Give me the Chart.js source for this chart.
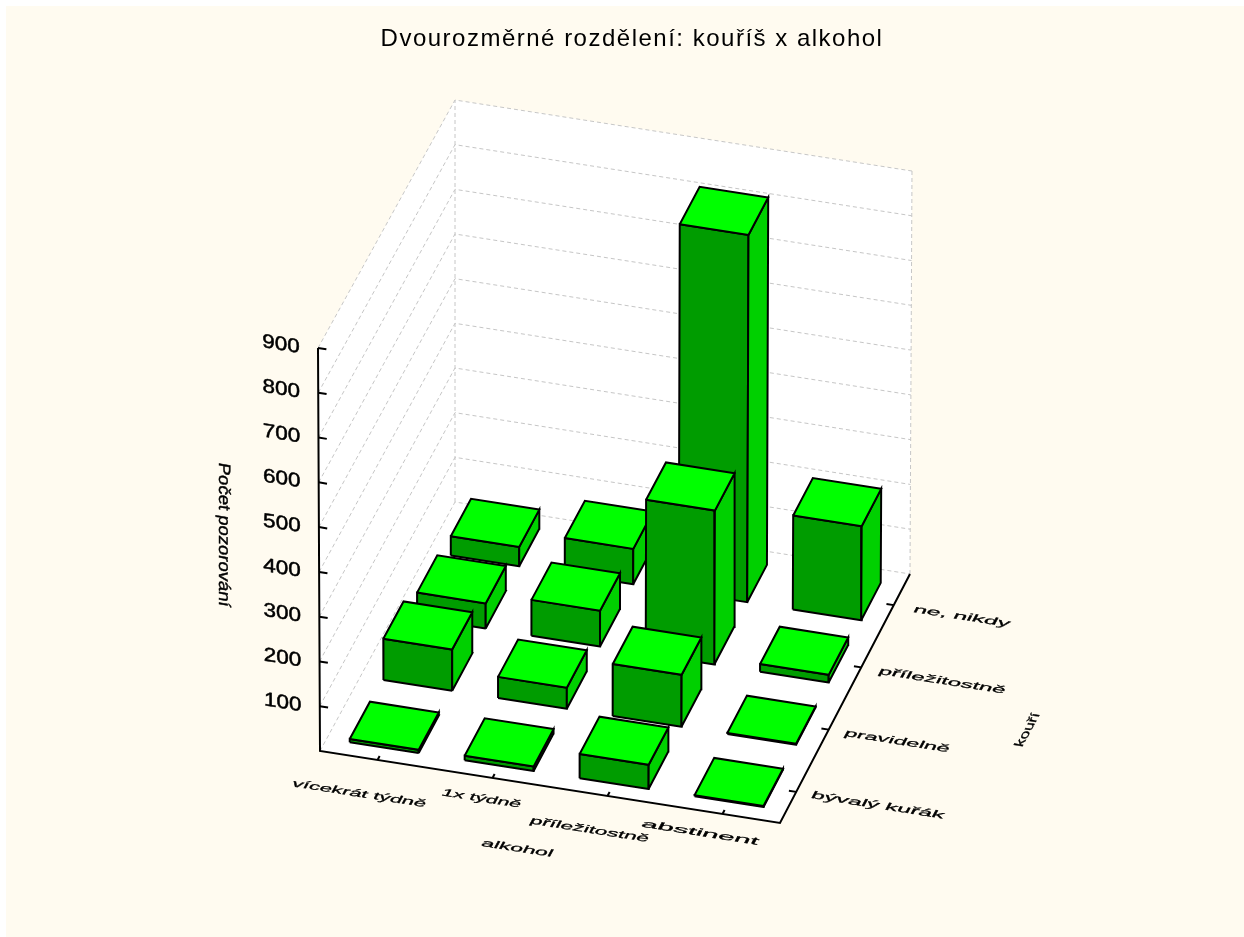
<!DOCTYPE html>
<html>
<head>
<meta charset="utf-8">
<title>Dvourozměrné rozdělení</title>
<script src="https://cdn.jsdelivr.net/npm/chart.js@4/dist/chart.umd.min.js"></script>
<style>
  html, body { margin: 0; padding: 0; background: #fff; overflow: hidden; }
  #paper { position: absolute; left: 6px; top: 6px; right: 0; bottom: 0; width: 1238px; height: 931px; background: #fffbf0; }
  #chart { position: absolute; left: 0; top: 0; }
</style>
</head>
<body>
<div id="paper"></div>
<canvas id="chart" width="1244" height="937"></canvas>
<script>
// data
const alcoholLabels = ["vícekrát týdně", "1x týdně", "příležitostně", "abstinent"];
const smokingLabels = ["bývalý kuřák", "pravidelně", "příležitostně", "ne, nikdy"];
const exSmoker = [7, 10, 54, 2];
const regular = [92, 47, 116, 2];
const occasional = [56, 80, 344, 17];
const never = [43, 79, 821, 210];
const countTicks = [0, 100, 200, 300, 400, 500, 600, 700, 800, 900];
const chartTitle = "Dvourozměrné rozdělení: kouříš x alkohol";
const countTitle = "Počet pozorování";
const alcoholTitle = "alkohol";
const smokingTitle = "kouří";

const rows = [exSmoker, regular, occasional, never];
const countMax = 900;

// corners of the 3d box on the page: floor, then top
const floorCorners = { a: [320, 751], b: [780, 823], c: [910, 574], d: [455, 502] };
const topCorners = { a: [318, 348], b: [783, 421], c: [912, 171], d: [455, 100] };

function mix(p, q, t) {
  return [p[0] + (q[0] - p[0]) * t, p[1] + (q[1] - p[1]) * t];
}
function onPlane(c, u, v) {
  return mix(mix(c.a, c.b, u), mix(c.d, c.c, u), v);
}
// u along alkohol, v along kouří, z = count
function project(u, v, z) {
  const p = mix(onPlane(floorCorners, u, v), onPlane(topCorners, u, v), (z || 0) / countMax);
  return { x: p[0], y: p[1] };
}

const datasets = [];
function addPath(points, o) {
  datasets.push({
    data: points,
    showLine: true,
    pointRadius: 0,
    tension: 0,
    borderColor: o.line || "transparent",
    borderWidth: o.width === undefined ? 1 : o.width,
    borderDash: o.dash || [],
    borderJoinStyle: "miter",
    backgroundColor: o.fill || "transparent",
    fill: o.fill ? "shape" : false,
  });
}
function addFace(points, fill, line, width) {
  addPath(points.concat([points[0]]), { fill: fill, line: line, width: width });
}

// walls and floor
addFace([project(0, 0, 0), project(0, 1, 0), project(0, 1, countMax), project(0, 0, countMax)], "#ffffff");
addFace([project(0, 1, 0), project(1, 1, 0), project(1, 1, countMax), project(0, 1, countMax)], "#ffffff");
addFace([project(0, 0, 0), project(1, 0, 0), project(1, 1, 0), project(0, 1, 0)], "#ffffff");

// grid
const gridStyle = { line: "#c6c6c6", width: 1, dash: [4, 3] };
countTicks.forEach(function (z) {
  addPath([project(0, 0, z), project(0, 1, z), project(1, 1, z)], gridStyle);
});
addPath([project(0, 1, 0), project(0, 1, countMax)], gridStyle);
addPath([project(1, 1, 0), project(1, 1, countMax)], gridStyle);

// axes
const axisStyle = { line: "#000", width: 2 };
addPath([project(0, 0, countMax), project(0, 0, 0), project(1, 0, 0), project(1, 1, 0)], axisStyle);
countTicks.slice(1).forEach(function (z) {
  addPath([project(0, 0, z), project(0.018, 0, z)], axisStyle);
});
alcoholLabels.forEach(function (name, i) {
  const u = (i + 0.5) / alcoholLabels.length;
  addPath([project(u, 0, 0), project(u, 0.016, 0)], axisStyle);
});
smokingLabels.forEach(function (name, j) {
  const v = (j + 0.5) / smokingLabels.length;
  addPath([project(1, v, 0), project(0.984, v, 0)], axisStyle);
});

// bars, back row first so the front ones cover them
const halfBar = 0.075;
for (let j = rows.length - 1; j >= 0; j--) {
  rows[j].forEach(function (value, i) {
    const uc = (i + 0.5) / rows[j].length;
    const vc = (j + 0.5) / rows.length;
    const u0 = uc - halfBar, u1 = uc + halfBar;
    const v0 = vc - halfBar, v1 = vc + halfBar;
    addFace([project(u0, v0, 0), project(u1, v0, 0), project(u1, v0, value), project(u0, v0, value)], "#009c00", "#000", 2);
    addFace([project(u1, v0, 0), project(u1, v1, 0), project(u1, v1, value), project(u1, v0, value)], "#00d000", "#000", 2);
    addFace([project(u0, v0, value), project(u1, v0, value), project(u1, v1, value), project(u0, v1, value)], "#00ff00", "#000", 2);
  });
}

// Chart.js paints the last dataset first
datasets.reverse();

function planeText(ctx, text, x, y, dir, up, width, capHeight) {
  const size = 20;
  ctx.save();
  ctx.letterSpacing = "0px";
  ctx.font = size + 'px "Liberation Sans"';
  ctx.textAlign = "center";
  ctx.textBaseline = "alphabetic";
  ctx.fillStyle = "#000";
  ctx.strokeStyle = "#000";
  ctx.lineWidth = 0.5;
  const sx = width / ctx.measureText(text).width;
  const sy = capHeight / (size * 0.72);
  ctx.transform(dir[0] * sx, dir[1] * sx, -up[0] * sy, -up[1] * sy, x, y);
  ctx.fillText(text, 0, size * 0.36);
  ctx.strokeText(text, 0, size * 0.36);
  ctx.restore();
}

const alongFloor = [0.988, 0.155];
const intoFloor = [0.476, -0.879];
const alcoholWidths = [135, 80, 120, 118];
const smokingWidths = [134, 106, 128, 97];
const alcoholShift = [0, 0, 0, -0.025];

const textPlugin = {
  id: "planeLabels",
  beforeDraw: function (chart) {
    // the title is wide-set in the original
    chart.ctx.letterSpacing = "1.5px";
  },
  afterDatasetsDraw: function (chart) {
    const ctx = chart.ctx;
    const sx = chart.scales.x, sy = chart.scales.y;
    function place(u, v, z) {
      const p = project(u, v, z);
      return [sx.getPixelForValue(p.x), sy.getPixelForValue(p.y)];
    }
    countTicks.slice(1).forEach(function (z) {
      const p = place(0, 0, z);
      planeText(ctx, String(z), p[0] - 37, p[1] - 5, alongFloor, [0, -1], 38, 14);
    });
    alcoholLabels.forEach(function (name, i) {
      const u = (i + 0.5) / alcoholLabels.length + alcoholShift[i];
      const p = place(u, i % 2 ? -0.08 : -0.133, 0);
      planeText(ctx, name, p[0], p[1], alongFloor, intoFloor, alcoholWidths[i], 8);
    });
    smokingLabels.forEach(function (name, j) {
      const p = place(j % 2 ? 1.15 : 1.178, (j + 0.5) / smokingLabels.length, 0);
      planeText(ctx, name, p[0], p[1], alongFloor, intoFloor, smokingWidths[j], 8);
    });
    const mid = place(0.5, -0.244, 0);
    planeText(ctx, alcoholTitle, mid[0], mid[1], alongFloor, intoFloor, 72, 8);
    const side = place(1.4, 0.49, 0);
    planeText(ctx, smokingTitle, side[0], side[1], intoFloor, [-0.988, -0.155], 38, 9);
    planeText(ctx, countTitle, 225, 535, [0, 1], [0.986, 0.167], 144, 12);
  },
};

const titleSize = 24;
const titleTop = 25;
const leftPad = 20;

new Chart(document.getElementById("chart"), {
  type: "scatter",
  data: { datasets: datasets },
  plugins: [textPlugin],
  options: {
    responsive: false,
    animation: false,
    events: [],
    layout: { padding: { left: leftPad } },
    plugins: {
      legend: { display: false },
      tooltip: { enabled: false },
      title: {
        display: true,
        text: chartTitle,
        color: "#000",
        font: { family: "Liberation Sans", size: titleSize, weight: "normal", lineHeight: 1.2 },
        padding: { top: titleTop, bottom: 0 },
      },
    },
    scales: {
      x: { type: "linear", display: false, min: leftPad, max: 1244 },
      y: { type: "linear", display: false, reverse: true, min: titleTop + titleSize * 1.2, max: 937 },
    },
  },
});
</script>
</body>
</html>
